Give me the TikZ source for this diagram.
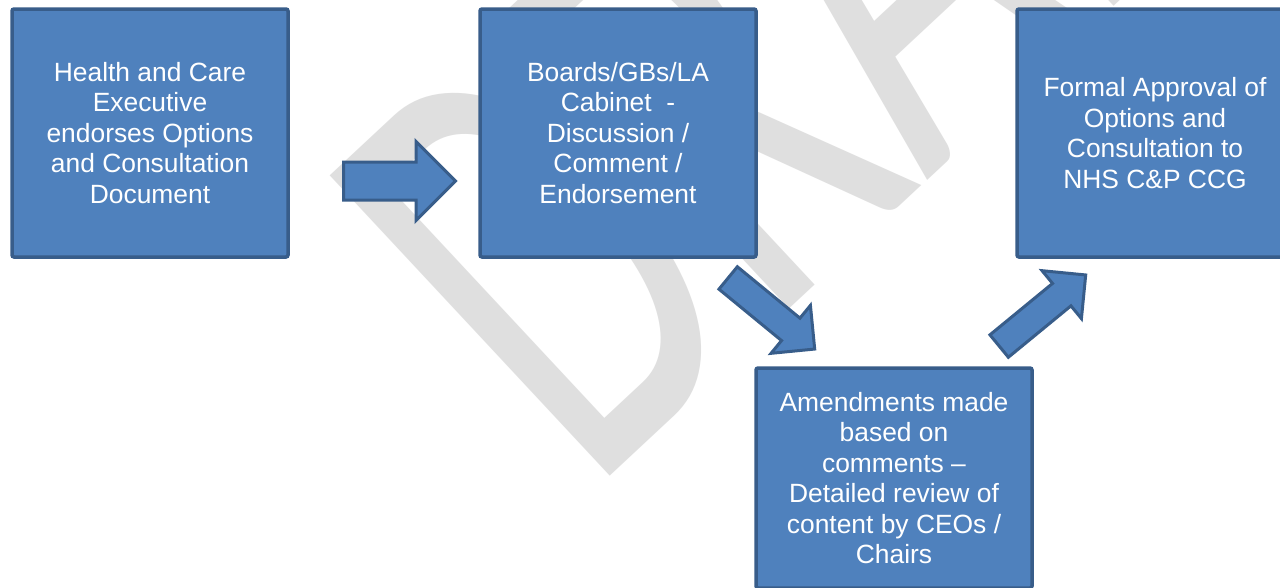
\documentclass[tikz,border=0pt]{standalone}
\usepackage{fontspec}
\setmainfont{Liberation Sans}
\newfontfamily\wmfont{Carlito}
\usetikzlibrary{shapes.arrows}
\definecolor{boxblue}{HTML}{4F81BD}
\definecolor{edgeblue}{HTML}{385D8A}
\definecolor{wmgray}{HTML}{DFDFDF}

\begin{document}
\begin{tikzpicture}[x=1pt,y=-1pt,
    stage/.style={draw=edgeblue,fill=boxblue,line width=3.5pt,rounded corners=2pt,
      text=white,align=center,inner sep=0pt,minimum width=276pt,minimum height=248pt,
      font=\fontsize{26.4}{30.5}\selectfont},
    bigarrow/.style={single arrow,draw=edgeblue,fill=boxblue,line width=3pt,
      inner xsep=0pt,inner ysep=17.5pt,single arrow head extend=20.5pt,
      minimum height=112pt,anchor=tail},
    slantarrow/.style={bigarrow,inner ysep=13pt,single arrow head extend=16.5pt}]
  % page
  \path[use as bounding box,fill=white] (0,0) rectangle (1280,587);
  % watermark
  \node[rotate=43,xscale=0.62,anchor=base west,inner sep=0pt,text=wmgray,
        font=\wmfont\fontsize{640}{640}\selectfont] (draft) at (590,495) {DRAFT};
  % stages
  \node[stage] (hce) at (150,133) {Health and Care\\Executive\\endorses Options\\and Consultation\\Document};
  \node[stage] (boards) at (618,133) {Boards/GBs/LA\\Cabinet \ -\\Discussion /\\Comment /\\Endorsement};
  \node[stage] (formal) at (1155,133) {Formal Approval of\\Options and\\Consultation to\\NHS C\&P CCG};
  \node[stage,minimum height=220pt] (amend) at (894,478) {Amendments made\\based on\\comments –\\Detailed review of\\content by CEOs /\\Chairs};
  % arrows
  \node[bigarrow] (a1) at (342,181) {};
  \node[slantarrow,rotate=-39.4] (a2) at (727,277) {};
  \node[slantarrow,rotate=39.4] (a3) at (998,347) {};
\end{tikzpicture}
\end{document}
